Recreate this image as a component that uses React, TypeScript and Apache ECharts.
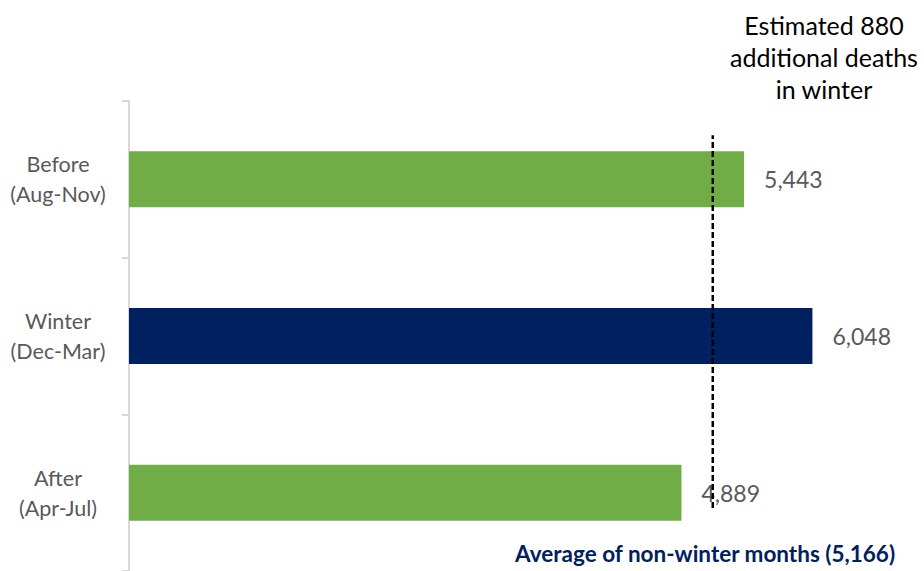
import React, { useEffect, useRef } from "react";
import * as echarts from "echarts";

const categories = ["Before\n(Aug-Nov)", "Winter\n(Dec-Mar)", "After\n(Apr-Jul)"];
const deaths = [5443, 6048, 4889];
const barColors = ["#70AD47", "#002060", "#70AD47"];
const nonWinterAverage = 5166;
const averageLabel = "Average of non-winter months (5,166)";
const annotation = "Estimated 880\nadditional deaths\nin winter";

export default function App() {
  const ref = useRef<HTMLDivElement>(null);
  useEffect(() => {
    if (!ref.current) return;
    const chart = echarts.init(ref.current, null, { renderer: "svg" });
    const font = "Lato, 'Open Sans', sans-serif";
    chart.setOption({
      animation: false,
      grid: { left: 129, top: 101, height: 476, width: 791, containLabel: false },
      xAxis: {
        type: "value",
        min: 0,
        max: 7000,
        show: false,
      },
      yAxis: [
        {
          type: "category",
          data: categories,
          inverse: true,
          axisLine: { show: true, lineStyle: { color: "#D9D9D9", width: 2 } },
          axisTick: { show: true, length: 7, lineStyle: { color: "#D9D9D9", width: 2 } },
          axisLabel: {
            color: "#595959",
            fontSize: 21.5,
            fontFamily: font,
            align: "center",
            margin: 71,
            lineHeight: 30,
          },
          splitLine: { show: false },
        },
        { type: "value", min: 0, max: 1, show: false },
      ],
      series: [
        {
          type: "bar",
          yAxisIndex: 0,
          barWidth: 56,
          data: deaths.map((v, i) => ({ value: v, itemStyle: { color: barColors[i] } })),
          label: {
            show: true,
            position: "right",
            distance: 20,
            color: "#595959",
            fontSize: 23,
            fontFamily: font,
            formatter: (p: any) => p.value.toLocaleString("en-US"),
          },
        },
        {
          type: "line",
          yAxisIndex: 1,
          symbol: "none",
          z: 5,
          lineStyle: { color: "#000000", width: 2.5, type: [6, 3] },
          data: [
            [nonWinterAverage, 0.134],
            [nonWinterAverage, 0.927],
          ],
        },
      ],
      graphic: [
        {
          type: "text",
          right: 28,
          top: 542,
          style: {
            text: averageLabel,
            fill: "#002060",
            fontSize: 22.5,
            fontWeight: "bold",
            fontFamily: font,
          },
        },
        {
          type: "text",
          x: 824,
          y: 9,
          style: {
            text: annotation,
            fill: "#000000",
            fontSize: 25,
            fontFamily: font,
            align: "center",
            lineHeight: 32,
          },
        },
      ],
    });
    return () => chart.dispose();
  }, []);
  return <div ref={ref} style={{ width: 924, height: 571, position: "absolute", left: 0, top: 0 }} />;
}
